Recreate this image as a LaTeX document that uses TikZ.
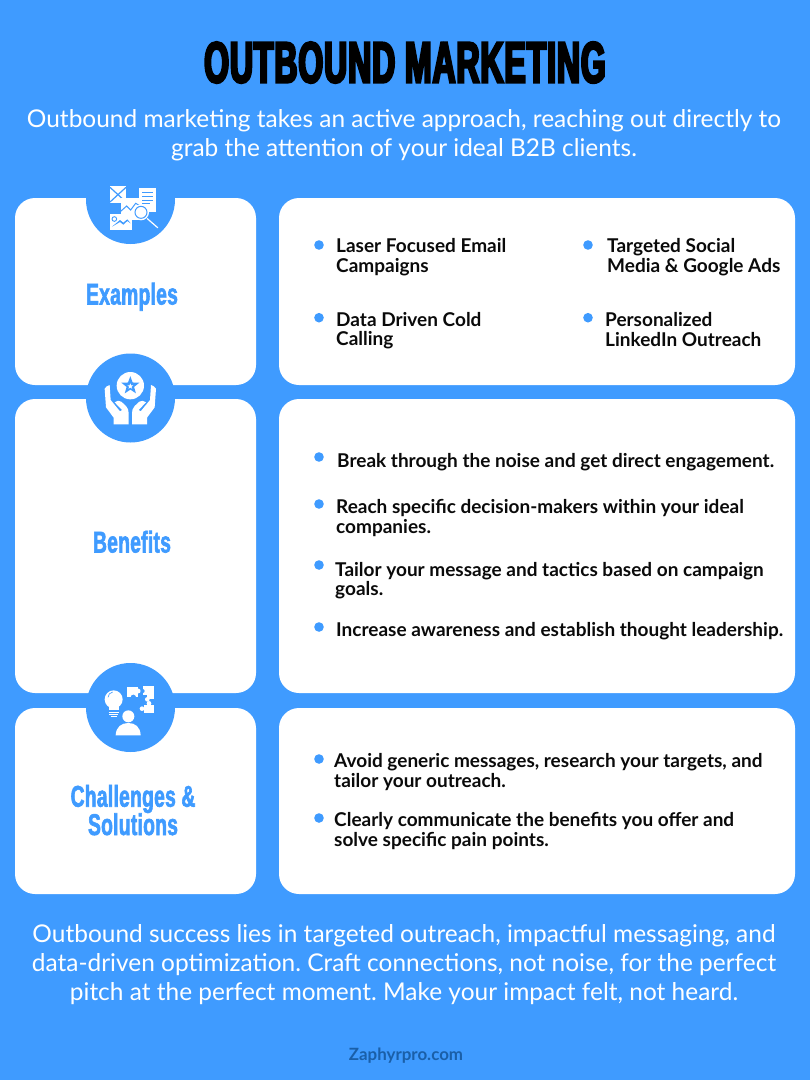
\documentclass[tikz,border=0pt]{standalone}
\usepackage{fontspec}
\setmainfont{Lato}[Ligatures={TeX,Common}]
\newfontfamily\titlefont{Liberation Sans Bold}[FakeStretch=0.552,FakeBold=4,LetterSpace=1.5]
\newfontfamily\labelfont{Liberation Sans Bold}[FakeStretch=0.64,FakeBold=2,LetterSpace=1]
\definecolor{bluebg}{HTML}{3F9BFF}
\definecolor{inkdark}{HTML}{0A0A0A}
\definecolor{footblue}{HTML}{1A5FA8}
\usetikzlibrary{shapes.geometric}
\frenchspacing
\tikzset{
 x=1pt,y=-1pt,
 card/.style={fill=white,rounded corners=20pt,draw=none},
 badge/.style={circle,fill=bluebg,minimum size=89pt,inner sep=0pt},
 dotb/.style={circle,fill=bluebg,minimum size=9.6pt,inner sep=0pt},
 item/.style={anchor=base west,inner sep=0pt,align=left,font=\fontsize{19}{19.4}\selectfont\bfseries,text=inkdark},
 lead/.style={anchor=base,inner sep=0pt,align=center,text=white,font=\fontsize{24.45}{29}\selectfont},
 headlabel/.style={anchor=base,inner sep=0pt,align=center,text=bluebg,font=\fontsize{30}{29}\labelfont\selectfont},
 ic/.style={fill=white,draw=none},
}
\begin{document}
\begin{tikzpicture}
\useasboundingbox (0,0) rectangle (810,1080);
\fill[bluebg] (0,0) rectangle (810,1080);
\node[anchor=base,inner sep=0pt,text=black,font=\fontsize{58}{58}\titlefont\selectfont] (title) at (405,82.5) {OUTBOUND MARKETING};
\node[lead] (sub1) at (404,127) {Outbound marketing takes an active approach, reaching out directly to};
\node[lead] (sub2) at (404,156) {grab the attention of your ideal B2B clients.};
% cards
\fill[card] (15,198) rectangle (256,385);
\fill[card] (279,198) rectangle (795,385);
\fill[card] (15,399) rectangle (256,693);
\fill[card] (279,399) rectangle (795,693);
\fill[card] (15,708) rectangle (256,894);
\fill[card] (279,708) rectangle (795,894);
% badges
\node[badge] (b1) at (130.5,199.5) {};
\node[badge] (b2) at (130.5,398) {};
\node[badge] (b3) at (130.5,707.5) {};
% labels
\node[headlabel] (l1) at (132,304.5) {Examples};
\node[headlabel] (l2) at (132,552.5) {Benefits};
\node[headlabel] (l3) at (133,806.7) {Challenges \&};
\node[headlabel] (l3b) at (133,835) {Solutions};
% icon 1
\begin{scope}[shift={(70,170)},scale=1/3]
 \fill[ic] (120,48) rectangle (168,98);
 \draw[bluebg,line width=1.2pt] (120,52) -- (168,96) (168,52) -- (120,96);
 \fill[ic] (207,53) rectangle (258,125);
 \draw[bluebg,line width=1pt] (217,68) -- (248,68) (217,79) -- (248,79) (217,90) -- (248,90) (217,101) -- (240,101);
 \fill[ic] (152,85) rectangle (211,150);
 \draw[bluebg,line width=1pt] (152,124) -- (170,108) -- (182,120) -- (197,100) -- (211,108);
 \fill[ic] (120,133) rectangle (187,180);
 \fill[bluebg] (126,170) -- (150,150) -- (160,158) -- (172,148) -- (182,160) -- (172,153) -- (160,164) -- (150,156) -- cycle;
 \draw[bluebg,line width=.9pt] (133,147) circle (7);
 \draw[white,line width=1.2pt,line cap=round] (232,146) -- (263,173);
 \fill[white] (213,127) circle (24);
 \draw[bluebg,line width=1pt] (213,127) circle (18);
\end{scope}
% icon 2
\begin{scope}[shift={(70,345)},scale=1/3]
 \fill[ic] (181,122) circle (41);
 \node[star,star points=5,star point ratio=2.4,fill=bluebg,minimum size=19pt,inner sep=0pt] (st1) at (181,122) {};
 \node[star,star points=5,star point ratio=2.4,fill=white,minimum size=6pt,inner sep=0pt] (st2) at (181,124) {};
 \foreach \s/\o in {1/0,-1/362}{
 \begin{scope}[shift={(\o,0)},xscale=\s]
  \fill[ic] (104,131) .. controls (106,125) and (114,122) .. (119,120) -- (122,165) -- (150,199) -- (156,195) -- (134,172) .. controls (140,166) and (148,166) .. (154,170) -- (168,183) .. controls (174,190) and (176,196) .. (176,205) -- (176,238) -- (131,238) -- (131,218) -- (108,187) -- cycle;
 \end{scope}}
\end{scope}
% icon 3
\begin{scope}[shift={(70,655)},scale=1/3]
 \fill[ic] (131,133) circle (27);
 \fill[ic] (116,150) rectangle (146,165);
 \draw[bluebg,line width=.6pt] (114,127) .. controls (115,118) and (120,113) .. (128,111);
 \draw[white,line width=1pt] (116,171) -- (146,171) (118,178) -- (144,178) (122,184) -- (140,184);
 \fill[ic] (175,184) circle (18);
 \fill[ic] (137,241) .. controls (138,215) and (155,204) .. (175,204) .. controls (195,204) and (211,215) .. (212,241) -- cycle;
 % puzzle
 \fill[ic] (172,95) rectangle (204,127);
 \fill[ic] (205,108) circle (7);
 \fill[bluebg] (190,127) circle (8);
 \fill[ic] (218,94) rectangle (252,120);
 \fill[ic] (232,116) rectangle (252,132);
 \fill[ic] (232,133) circle (7);
 \fill[bluebg] (218,108) circle (6);
 \fill[ic] (222,150) rectangle (252,174);
 \fill[ic] (237,145) circle (7);
 \fill[ic] (216,161) circle (7);
\end{scope}
% bullets and text
\node[dotb] (d1) at (319,245) {}; \node[item] (t1) at (336,272.3) {Laser Focused Email\\Campaigns};
\node[dotb] (d2) at (588,245) {}; \node[item] (t2) at (607,272.3) {Targeted Social\\Media \& Google Ads};
\node[dotb] (d3) at (319,317.7) {}; \node[item] (t3) at (336,345.5) {Data Driven Cold\\Calling};
\node[dotb] (d4) at (588,317.7) {}; \node[item] (t4) at (605,346) {Personalized\\LinkedIn Outreach};
\node[dotb] (d5) at (319,457) {}; \node[item] (t5) at (337,467) {Break through the noise and get direct engagement.};
\node[dotb] (d6) at (319,504) {}; \node[item] (t6) at (336,533) {Reach specific decision-makers within your ideal\\companies.};
\node[dotb] (d7) at (319,565) {}; \node[item] (t7) at (335,595.5) {Tailor your message and tactics based on campaign\\goals.};
\node[dotb] (d8) at (319,627) {}; \node[item] (t8) at (336,636) {Increase awareness and establish thought leadership.};
\node[dotb] (d9) at (319,759) {}; \node[item] (t9) at (334,787) {Avoid generic messages, research your targets, and\\tailor your outreach.};
\node[dotb] (d10) at (319,818) {}; \node[item] (t10) at (334,846) {Clearly communicate the benefits you offer and\\solve specific pain points.};
% closing
\node[lead] (c1) at (404,942) {Outbound success lies in targeted outreach, impactful messaging, and};
\node[lead] (c2) at (404,971) {data-driven optimization. Craft connections, not noise, for the perfect};
\node[lead] (c3) at (404,1000) {pitch at the perfect moment. Make your impact felt, not heard.};
\node[anchor=base,inner sep=0pt,text=footblue,font=\fontsize{16.9}{17}\selectfont\bfseries] (foot) at (406,1060) {Zaphyrpro.com};
\end{tikzpicture}
\end{document}
